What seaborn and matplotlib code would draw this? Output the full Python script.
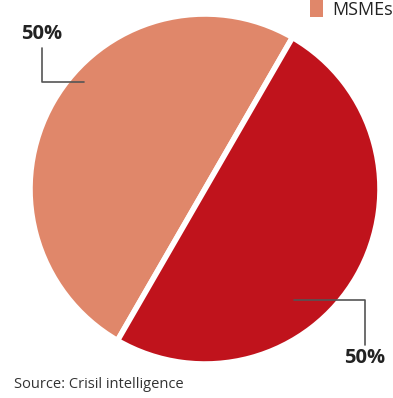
import matplotlib
matplotlib.use("Agg")
import matplotlib.pyplot as plt
import seaborn as sns

# data
categories = ["MSMEs", "Others"]
shares = [50, 50]
pct_labels = ["50%", "50%"]
colors = ["#E0876A", "#C0131C"]
source_text = "Source: Crisil intelligence"

sns.set_theme(style="white")
plt.rcParams["font.family"] = ["Open Sans", "DejaVu Sans"]

W, H = 393, 398
fig = plt.figure(figsize=(W / 100, H / 100), dpi=100)
ax = fig.add_axes([0, 0, 1, 1])

cx, cy, r = 205, H - 189, 175
wedges, _ = ax.pie(shares, colors=colors, startangle=60, counterclock=True,
                   center=(cx, cy), radius=r, frame=True,
                   wedgeprops=dict(edgecolor="white", linewidth=4))
ax.set_xlim(0, W)
ax.set_ylim(0, H)
ax.set_aspect("equal")
ax.axis("off")

# leader lines and labels
lc = "#555555"
ax.plot([42, 42, 84], [H - 48, H - 82, H - 82], color=lc, lw=1.2)
ax.text(42, H - 34, pct_labels[0], ha="center", va="center",
        fontsize=14.5, fontweight="bold", color="#222222")
ax.plot([294, 365, 365], [H - 300, H - 300, H - 345], color=lc, lw=1.2)
ax.text(365, H - 358, pct_labels[1], ha="center", va="center",
        fontsize=14.5, fontweight="bold", color="#222222")

# legend (only MSMEs visible)
from matplotlib.patches import Patch
handle = Patch(facecolor=colors[0], edgecolor="none")
leg = fig.legend([handle], [categories[0]], loc="upper right",
                 bbox_to_anchor=(1.0, 1.0), frameon=False, fontsize=13,
                 handlelength=0.75, handleheight=1.05, handletextpad=0.5,
                 borderaxespad=0, borderpad=0.0)
for t in leg.get_texts():
    t.set_color("#222222")

fig.text(14 / W, 1 - 385 / H, source_text, ha="left", va="center",
         fontsize=10.5, color="#333333")

fig.savefig("out.png", dpi=100, facecolor="white")
